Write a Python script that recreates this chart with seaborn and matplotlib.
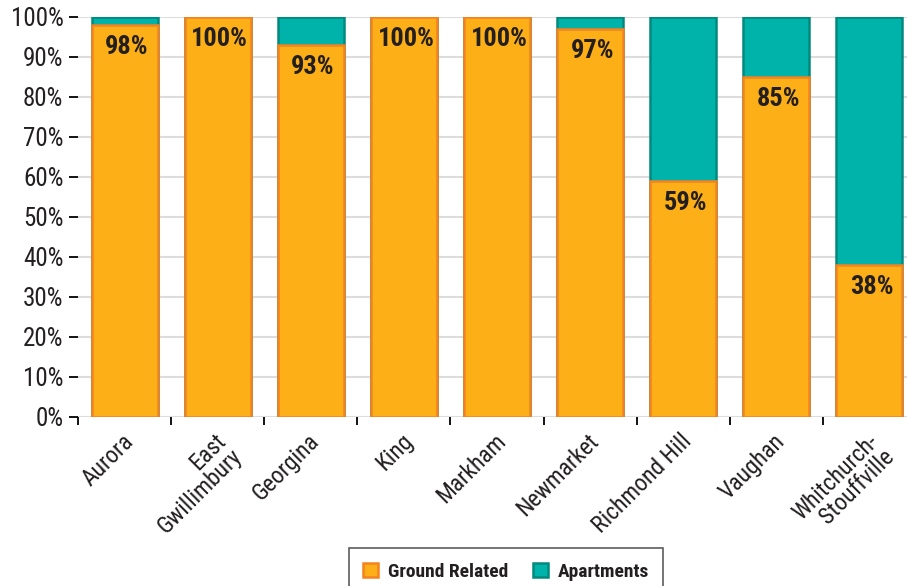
import numpy as np
import pandas as pd
import matplotlib.pyplot as plt
import seaborn as sns
from matplotlib import font_manager as fm
from matplotlib.patches import Patch
from matplotlib.transforms import ScaledTranslation

# values (share of new units, %)
towns = ['Aurora', 'East\nGwillimbury', 'Georgina', 'King', 'Markham',
         'Newmarket', 'Richmond Hill', 'Vaughan', 'Whitchurch-\nStouffville']
ground_related = [98, 100, 93, 100, 100, 97, 59, 85, 38]
apartments = [2, 0, 7, 0, 0, 3, 41, 15, 62]
y_ticks = [0, 10, 20, 30, 40, 50, 60, 70, 80, 90, 100]

orange, orange_edge = '#FCAF17', '#F58220'
teal, teal_edge = '#00B3AA', '#00897E'
ink = '#231F20'

sns.set_style('white')
# condensed face if one is around, else plain DejaVu
have = {f.name for f in fm.fontManager.ttflist}
cond = [n for n in ['Roboto Condensed', 'Barlow Semi Condensed', 'Liberation Sans Narrow'] if n in have]
plt.rcParams['font.family'] = cond[:1] + ['DejaVu Sans']

df = pd.DataFrame({'town': towns, 'ground': ground_related, 'apt': apartments})
df['total'] = df['ground'] + df['apt']

fig = plt.figure(figsize=(9.07, 5.86), dpi=100)
# last column runs a bit past the right edge, like the original
ax = fig.add_axes([78 / 907, 169 / 586, 838 / 907, 400 / 586])

# grid behind bars
ax.set_axisbelow(True)
ax.yaxis.grid(True, color='#DCDCDC', linewidth=1.5)

# apartments on top: draw full stack in teal, then ground related over it
sns.barplot(data=df, x='town', y='total', color=teal, saturation=1, width=0.71,
            edgecolor=teal_edge, linewidth=1.8, ax=ax)
sns.barplot(data=df, x='town', y='ground', color=orange, saturation=1, width=0.71,
            edgecolor=orange_edge, linewidth=1.8, ax=ax)

for i, g in enumerate(df['ground']):
    ax.annotate(f'{g}%', xy=(i, g), xytext=(1.5, -7), textcoords='offset points',
                ha='center', va='top', fontsize=19, fontweight='bold', color=ink)

ax.set_ylim(0, 100)
ax.set_xlim(-0.5, 8.5)
ax.set_yticks(y_ticks)
ax.set_yticklabels([f'{v}%' for v in y_ticks], fontsize=18, color=ink)
ax.tick_params(axis='y', length=6.5, width=1.3, color='black', pad=4, left=True)

# labels under bar centres, tick marks at the boundaries
ax.set_xticks(range(len(towns)))
ax.set_xticklabels(towns, rotation=45, ha='right', rotation_mode='anchor',
                   multialignment='right', linespacing=0.95, fontsize=17, color=ink)
ax.set_xticks(np.arange(-0.5, len(towns), 1.0), minor=True)
ax.tick_params(axis='x', which='major', length=0, pad=9)
ax.tick_params(axis='x', which='minor', length=6, width=1.3, color='black', bottom=True)
shift = ScaledTranslation(-3 / 100, 0, fig.dpi_scale_trans)
for lbl in ax.get_xticklabels():
    lbl.set_transform(lbl.get_transform() + shift)

ax.set_xlabel('')
ax.set_ylabel('')
sns.despine(ax=ax, left=True, bottom=True, top=True, right=True)

handles = [Patch(facecolor=orange, edgecolor=orange_edge, linewidth=1.8, label='Ground Related'),
           Patch(facecolor=teal, edgecolor=teal_edge, linewidth=1.8, label='Apartments')]
leg = fig.legend(handles=handles, loc='upper center', bbox_to_anchor=(506 / 907, 38 / 586),
                 ncol=2, frameon=True, fancybox=False, borderaxespad=0,
                 prop={'weight': 'bold', 'size': 14}, handlelength=0.75, handleheight=0.75,
                 columnspacing=1.3, borderpad=0.75, handletextpad=0.5)
leg.get_frame().set_edgecolor('#333333')
leg.get_frame().set_linewidth(1.2)
for t in leg.get_texts():
    t.set_color(ink)

fig.savefig('out.png', dpi=100)
